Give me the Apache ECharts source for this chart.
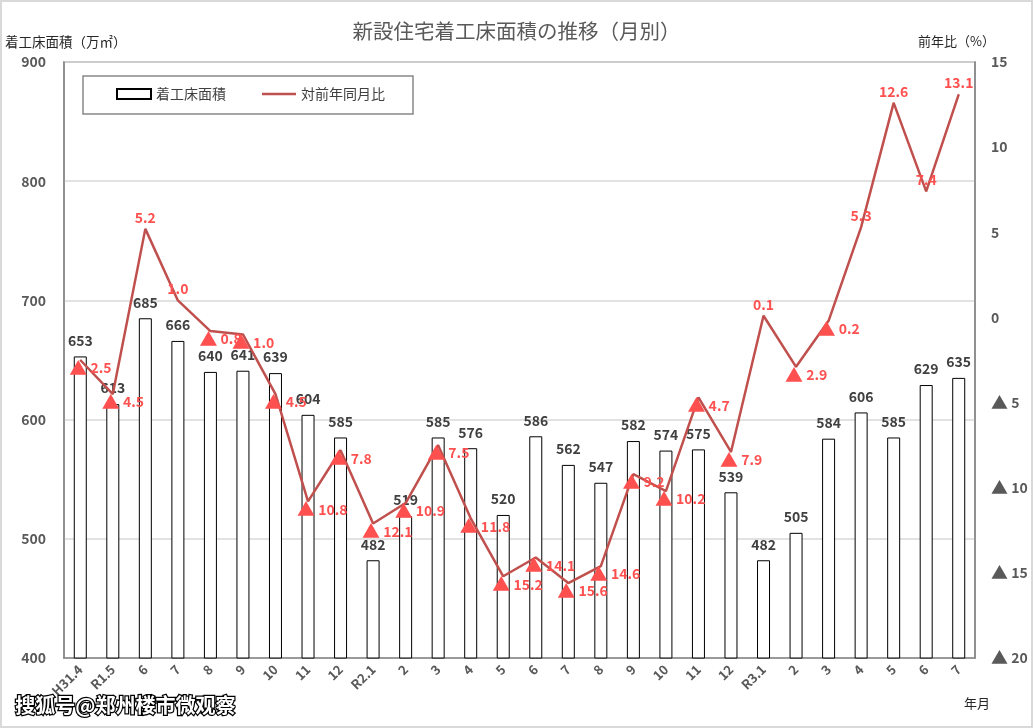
<!DOCTYPE html>
<html>
<head>
<meta charset="utf-8">
<script src="https://cdn.jsdelivr.net/npm/echarts@6/dist/echarts.min.js"></script>
<style>
  html, body { margin: 0; padding: 0; background: #fff; }
  #main { width: 1033px; height: 728px; }
</style>
</head>
<body>
<div id="main"></div>
<script>
// 年月
const months = ['H31.4', 'R1.5', '6', '7', '8', '9', '10', '11', '12',
  'R2.1', '2', '3', '4', '5', '6', '7', '8', '9', '10', '11', '12',
  'R3.1', '2', '3', '4', '5', '6', '7'];
// 着工床面積（万㎡）
const floorArea = [653, 613, 685, 666, 640, 641, 639, 604, 585,
  482, 519, 585, 576, 520, 586, 562, 547, 582, 574, 575, 539,
  482, 505, 584, 606, 585, 629, 635];
// 対前年同月比（%）
const yoyRate = [-2.5, -4.5, 5.2, 1.0, -0.8, -1.0, -4.5, -10.8, -7.8,
  -12.1, -10.9, -7.5, -11.8, -15.2, -14.1, -15.6, -14.6, -9.2, -10.2, -4.7, -7.9,
  0.1, -2.9, -0.2, 5.3, 12.6, 7.4, 13.1];

const FONT = '"Noto Sans CJK JP", "Noto Sans", sans-serif';
const GRAY = '#595959';
const RED_LINE = '#c0504d';
const RED_TEXT = '#ff5050';

const fmtRate = (v) => (v < 0 ? '{t|▲} ' + Math.abs(v).toFixed(1) : v.toFixed(1));

const rateData = yoyRate.map((v) => ({
  value: v,
  label: v < 0
    ? { position: 'inside', align: 'left', offset: [-11, 8] }
    : { position: 'top', distance: 4 }
}));

const chart = echarts.init(document.getElementById('main'));

const option = {
  animation: false,
  textStyle: { fontFamily: FONT },
  title: {
    text: '新設住宅着工床面積の推移（月別）',
    left: 'center',
    top: 16,
    textStyle: { color: GRAY, fontSize: 20.5, fontWeight: 'normal', fontFamily: FONT }
  },
  legend: {
    left: 116,
    top: 87,
    padding: 0,
    itemWidth: 34,
    itemHeight: 10,
    itemGap: 36,
    textStyle: { color: '#404040', fontSize: 14, fontFamily: FONT },
    data: [
      { name: '着工床面積', icon: 'rect' },
      { name: '対前年同月比', icon: 'path://M0,0H40V3H0Z', itemStyle: { color: RED_LINE } }
    ]
  },
  grid: {
    left: 64,
    right: 58,
    top: 62,
    bottom: 70,
    show: true,
    borderColor: '#898989',
    borderWidth: 1.5
  },
  xAxis: {
    type: 'category',
    data: months,
    axisLine: { onZero: false, lineStyle: { color: '#898989', width: 1.5 } },
    axisTick: { show: false },
    axisLabel: {
      rotate: 45,
      margin: 9,
      color: GRAY,
      fontSize: 13,
      fontWeight: 'bold',
      fontFamily: FONT
    }
  },
  yAxis: [
    {
      type: 'value',
      min: 400,
      max: 900,
      interval: 100,
      axisLine: { show: true, lineStyle: { color: '#898989', width: 1.5 } },
      axisTick: { show: false },
      axisLabel: { margin: 18, color: GRAY, fontSize: 14, fontWeight: 'bold', fontFamily: FONT },
      splitLine: { lineStyle: { color: '#d9d9d9', width: 1.5 } }
    },
    {
      type: 'value',
      min: -20,
      max: 15,
      interval: 5,
      position: 'right',
      axisLine: { show: true, lineStyle: { color: '#898989', width: 1.5 } },
      axisTick: { show: false },
      splitLine: { show: false },
      axisLabel: {
        margin: 16,
        color: GRAY,
        fontSize: 14,
        fontWeight: 'bold',
        fontFamily: FONT,
        formatter: (v) => (v < 0 ? '{t|▲} ' + Math.abs(v) : String(v)),
        rich: { t: { fontSize: 17, color: GRAY } }
      }
    }
  ],
  series: [
    {
      name: '着工床面積',
      type: 'bar',
      yAxisIndex: 0,
      barWidth: 13,
      itemStyle: { color: '#fff', borderColor: '#000', borderWidth: 1 },
      label: {
        show: true,
        position: 'top',
        distance: 9,
        color: '#404040',
        fontSize: 14,
        fontWeight: 'bold',
        fontFamily: FONT
      },
      data: floorArea
    },
    {
      name: '対前年同月比',
      type: 'line',
      yAxisIndex: 1,
      symbol: 'circle',
      symbolSize: 1,
      z: 5,
      itemStyle: { color: RED_LINE },
      lineStyle: { color: RED_LINE, width: 2.5 },
      label: {
        show: true,
        color: RED_TEXT,
        fontSize: 14,
        fontWeight: 'bold',
        fontFamily: FONT,
        formatter: (p) => fmtRate(p.value),
        rich: { t: { fontSize: 18, color: RED_TEXT } }
      },
      data: rateData
    }
  ],
  graphic: [
    {
      type: 'rect',
      silent: true,
      shape: { x: 1, y: 1, width: 1031, height: 726 },
      style: { fill: 'none', stroke: '#d9d9d9', lineWidth: 2 }
    },
    {
      type: 'rect',
      silent: true,
      shape: { x: 83, y: 76, width: 330, height: 38 },
      style: { fill: '#fff', stroke: '#888', lineWidth: 1.5 },
      z: 1
    },
    {
      type: 'text',
      left: 5,
      top: 35,
      style: { text: '着工床面積（万㎡）', fill: '#262626', fontSize: 13.5, fontFamily: FONT }
    },
    {
      type: 'text',
      left: 918,
      top: 35,
      style: { text: '前年比（%）', fill: '#262626', fontSize: 13, fontFamily: FONT }
    },
    {
      type: 'text',
      left: 964,
      top: 697,
      style: { text: '年月', fill: '#262626', fontSize: 13, fontFamily: FONT }
    },
    {
      type: 'text',
      left: 14,
      top: 694,
      z: 100,
      style: {
        text: '搜狐号@郑州楼市微观察',
        fill: '#fff',
        stroke: '#000',
        lineWidth: 2.5,
        fontSize: 20,
        fontWeight: 'bold',
        fontFamily: '"Noto Sans CJK SC", sans-serif'
      }
    }
  ]
};

chart.setOption(option);
</script>
</body>
</html>
